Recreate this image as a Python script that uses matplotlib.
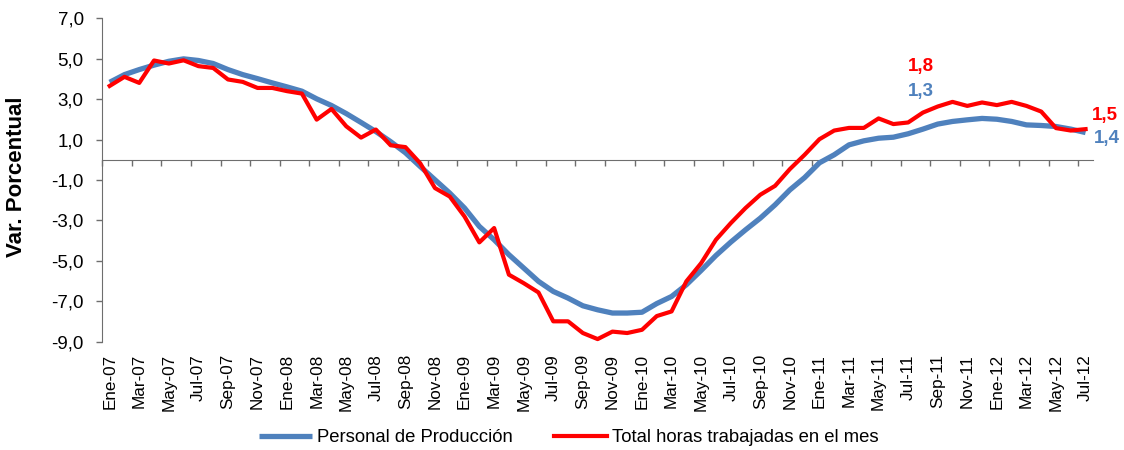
"""
Variación porcentual: personal de producción vs. total horas trabajadas
(Ene-07 a Jul-12). Writes out.png.
"""
import matplotlib
matplotlib.use("Agg")
import matplotlib.pyplot as plt
import numpy as np

plt.rcParams.update({
    "font.family": ["Liberation Sans", "DejaVu Sans"],
    "figure.facecolor": "white",
    "axes.facecolor": "white",
})

BLUE_C = "#4F81BD"
RED_C = "#FF0000"
AXIS_C = "#6E6E6E"

MONTHS = ["Ene", "Feb", "Mar", "Abr", "May", "Jun",
          "Jul", "Ago", "Sep", "Oct", "Nov", "Dic"]
YEARS = ["07", "08", "09", "10", "11", "12"]
periods = [f"{m}-{y}" for y in YEARS for m in MONTHS][:67]   # Ene-07 .. Jul-12

personal = [
    3.84, 4.22, 4.47, 4.69, 4.88, 5.00, 4.92, 4.77, 4.47, 4.22, 4.02, 3.81,
    3.61, 3.40, 3.02, 2.69, 2.29, 1.85, 1.40, 0.90, 0.35, -0.33, -0.99, -1.65,
    -2.39, -3.30, -3.96, -4.70, -5.36, -6.02, -6.52, -6.85, -7.23, -7.43, -7.59, -7.59,
    -7.55, -7.12, -6.77, -6.19, -5.48, -4.74, -4.08, -3.47, -2.89, -2.23, -1.49, -0.88,
    -0.15, 0.25, 0.74, 0.94, 1.07, 1.12, 1.29, 1.52, 1.77, 1.90, 1.98, 2.05,
    2.01, 1.90, 1.73, 1.70, 1.65, 1.52, 1.35,
]
horas = [
    3.66, 4.11, 3.81, 4.92, 4.77, 4.93, 4.64, 4.55, 3.98, 3.86, 3.56, 3.56,
    3.40, 3.28, 1.99, 2.52, 1.66, 1.10, 1.50, 0.72, 0.63, -0.17, -1.40, -1.82,
    -2.81, -4.09, -3.38, -5.69, -6.11, -6.57, -8.00, -8.00, -8.58, -8.88, -8.51, -8.58,
    -8.42, -7.74, -7.51, -6.02, -5.12, -3.96, -3.14, -2.39, -1.73, -1.29, -0.46, 0.25,
    1.02, 1.45, 1.58, 1.58, 2.05, 1.77, 1.85, 2.34, 2.64, 2.87, 2.67, 2.84,
    2.71, 2.87, 2.67, 2.39, 1.57, 1.45, 1.52,
]

# data labels: (month index, text)
labels_red = [(54, "1,8"), (66, "1,5")]
labels_blue = [(54, "1,3"), (66, "1,4")]

x = np.arange(len(periods))
YMIN, YMAX = -9, 7

fig = plt.figure(figsize=(11.24, 4.5), dpi=100)
ax = fig.add_axes([0.091, 0.2411, 0.8814, 0.7178])

ax.plot(x, personal, color=BLUE_C, lw=3.8, solid_capstyle="butt",
        label="Personal de Producción", zorder=3)
ax.plot(x, horas, color=RED_C, lw=3.0, solid_joinstyle="round",
        label="Total horas trabajadas en el mes", zorder=4)

ax.set_xlim(-0.5, len(periods) - 0.5)
ax.set_ylim(YMIN, YMAX)

# y axis
yt = np.arange(YMIN, YMAX + 1, 2)
ax.set_yticks(yt)
ax.set_yticklabels([f"{v:.1f}".replace(".", ",") for v in yt])
ax.tick_params(axis="y", direction="out", length=4.3, width=1, color=AXIS_C,
               pad=9, labelsize=13.5)
for s in ("top", "right"):
    ax.spines[s].set_visible(False)
ax.spines["left"].set_color(AXIS_C)

# x axis line sits at zero, tick marks every two months
ax.spines["bottom"].set_position(("data", 0))
ax.spines["bottom"].set_color(AXIS_C)
ax.set_xticks(np.arange(-0.5, len(periods), 2))
ax.tick_params(axis="x", direction="out", length=4.3, width=1, color=AXIS_C,
               labelbottom=False)

# category labels at the bottom of the plot area
sec = ax.secondary_xaxis("bottom")
sec.spines["bottom"].set_visible(False)
sec.set_xticks(x[::2])
sec.set_xticklabels(periods[::2], rotation=90, fontsize=12.3)
sec.tick_params(axis="x", length=0, pad=9)

ax.set_ylabel("Var. Porcentual", fontsize=16, fontweight="bold")
ax.yaxis.set_label_coords(-0.076, 0.51)

# data labels
for i, t in labels_red:
    off = (9, 40) if i < 60 else (14, 10)
    ax.annotate(t, xy=(i, horas[i]), xytext=off, textcoords="offset points",
                ha="center", va="center", color=RED_C, fontsize=13.5,
                fontweight="bold", annotation_clip=False)
for i, t in labels_blue:
    off = (9, 30.5) if i < 60 else (15.5, -4)
    ax.annotate(t, xy=(i, personal[i]), xytext=off, textcoords="offset points",
                ha="center", va="center", color=BLUE_C, fontsize=13.5,
                fontweight="bold", annotation_clip=False)

fig.legend(loc="center", bbox_to_anchor=(0.506, 0.027), ncol=2, frameon=False,
           fontsize=13.3, handlelength=2.9, handletextpad=0.27,
           columnspacing=2.2)

fig.savefig("out.png", dpi=100)
